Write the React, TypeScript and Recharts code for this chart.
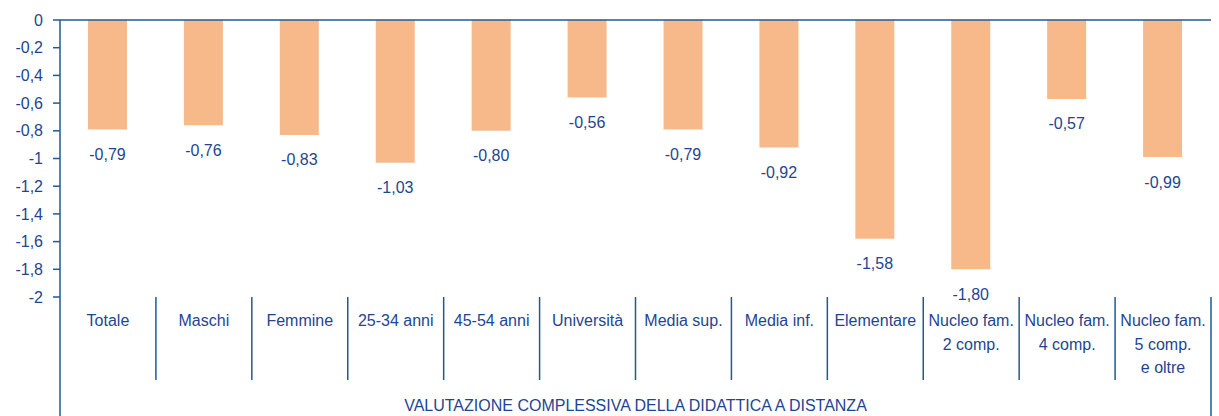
import { Bar, BarChart, LabelList, ReferenceLine, XAxis, YAxis } from "recharts";

const categories = [
  "Totale",
  "Maschi",
  "Femmine",
  "25-34 anni",
  "45-54 anni",
  "Università",
  "Media sup.",
  "Media inf.",
  "Elementare",
  "Nucleo fam.\n2 comp.",
  "Nucleo fam.\n4 comp.",
  "Nucleo fam.\n5 comp.\ne oltre",
];
const values = [-0.79, -0.76, -0.83, -1.03, -0.8, -0.56, -0.79, -0.92, -1.58, -1.8, -0.57, -0.99];
const yTicks = [0, -0.2, -0.4, -0.6, -0.8, -1, -1.2, -1.4, -1.6, -1.8, -2];
const groupTitle = "VALUTAZIONE COMPLESSIVA DELLA DIDATTICA A DISTANZA";

const data = categories.map((name, i) => ({ name, value: values[i] }));

const TEXT = "#1f4591";
const LINE = "#1f5a96";
const BAR = "#f7b98a";
const FONT = "'Liberation Sans', Arial, sans-serif";

const comma = (v: number, digits?: number) =>
  (digits === undefined ? String(v) : v.toFixed(digits)).replace(".", ",");

function BottomTick(props: any) {
  const { x, y, payload } = props;
  const half = payload.offset ?? 1151 / 24;
  const lines = String(payload.value).split("\n");
  const last = payload.index === categories.length - 1;
  return (
    <g>
      {payload.index === 0 && (
        <line x1={x - half} x2={x - half} y1={y} y2={y + 119} stroke={LINE} strokeWidth={1.5} />
      )}
      <line x1={x + half} x2={x + half} y1={y} y2={y + (last ? 119 : 83)} stroke={LINE} strokeWidth={1.5} />
      <text textAnchor="middle" fill={TEXT} fontSize={16} fontFamily={FONT}>
        {lines.map((l, i) => (
          <tspan key={i} x={x} y={y + 29 + i * 23.5}>
            {l}
          </tspan>
        ))}
      </text>
    </g>
  );
}

function TopTick(props: any) {
  const { x, y, payload } = props;
  const half = payload.offset ?? 1151 / 24;
  return <line x1={x + half} x2={x + half} y1={y} y2={y + 5} stroke={LINE} strokeWidth={1.5} />;
}

function ValueLabel(props: any) {
  const { x, y, width, height, value } = props;
  const end = Math.max(y, y + height);
  return (
    <text
      x={x + width / 2}
      y={end + 25}
      textAnchor="middle"
      dominantBaseline="central"
      fill={TEXT}
      fontSize={16}
      fontFamily={FONT}
    >
      {comma(value, 2)}
    </text>
  );
}

export default function App() {
  return (
    <div style={{ position: "absolute", left: 0, top: 0, background: "#fff" }}>
      <BarChart
        width={1219}
        height={416}
        data={data}
        margin={{ top: 20, right: 8, bottom: 0, left: 0 }}
        barCategoryGap={0}
      >
        <XAxis
          xAxisId="top"
          dataKey="name"
          orientation="top"
          height={0}
          axisLine={false}
          tickLine={false}
          tickSize={0}
          tickMargin={0}
          tick={<TopTick />}
          interval={0}
        />
        <XAxis
          xAxisId="bottom"
          dataKey="name"
          height={119}
          axisLine={false}
          tickLine={false}
          tickSize={0}
          tickMargin={0}
          tick={<BottomTick />}
          interval={0}
          label={{
            value: groupTitle,
            position: "insideBottom",
            offset: 5,
            fill: TEXT,
            fontSize: 16,
            fontFamily: FONT,
          }}
        />
        <YAxis
          domain={[-2, 0]}
          ticks={yTicks}
          width={60}
          interval={0}
          tickFormatter={(v: number) => comma(v)}
          axisLine={{ stroke: LINE, strokeWidth: 1.5 }}
          tickLine={{ stroke: LINE, strokeWidth: 1.5 }}
          tickSize={7}
          tickMargin={10}
          tick={{ fill: TEXT, fontSize: 16, fontFamily: FONT }}
        />
        <Bar dataKey="value" xAxisId="bottom" fill={BAR} barSize={39} isAnimationActive={false}>
          <LabelList dataKey="value" content={<ValueLabel />} />
        </Bar>
        <ReferenceLine y={0} xAxisId="bottom" stroke={LINE} strokeWidth={1.5} />
      </BarChart>
    </div>
  );
}
